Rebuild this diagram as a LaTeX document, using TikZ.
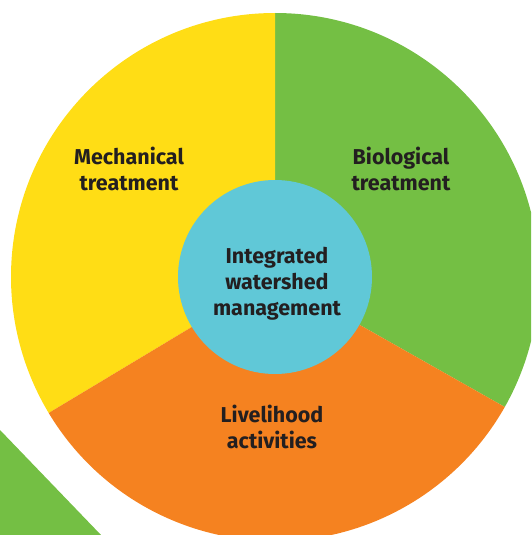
\documentclass[tikz,border=0pt]{standalone}
\usepackage{fontspec}
\setmainfont{Fira Sans}
\definecolor{wsyellow}{HTML}{FFDD15}
\definecolor{wsgreen}{HTML}{74BF44}
\definecolor{wsorange}{HTML}{F58220}
\definecolor{wscyan}{HTML}{60C8D7}
\definecolor{wstext}{HTML}{231F20}
\begin{document}
\begin{tikzpicture}[x=1pt, y=-1pt, font=\fontsize{21.5}{26}\selectfont\bfseries,
	lbl/.style={text=wstext, align=center, inner sep=0pt}]
		\useasboundingbox (0, 0) rectangle (531, 535);
		\clip (0, 0) rectangle (531, 535);
		\coordinate (c) at (275, 277);

		\fill[wsgreen] (0, 430) -- (101, 535) -- (0, 535) -- cycle;
		\fill[wsgreen] (c) -- ++(90:-264) arc[start angle=-90, end angle=29.5, radius=264] -- cycle;
		\fill[wsyellow] (c) -- ++(90:-264) arc[start angle=-90, end angle=-211, radius=264] -- cycle;
		\fill[wsorange] (c) -- ++(149:264) arc[start angle=149, end angle=29.5, radius=264] -- cycle;
		\fill[wscyan] (c) circle[radius=97];

		\node[lbl] (mech) at (129, 169) {Mechanical\\treatment};
		\node[lbl] (bio) at (401, 169) {Biological\\treatment};
		\node[lbl] (live) at (272, 427) {Livelihood\\activities};
		\node[lbl] (iwm) at (277, 284) {Integrated\\watershed\\management};
	\end{tikzpicture}
\end{document}
